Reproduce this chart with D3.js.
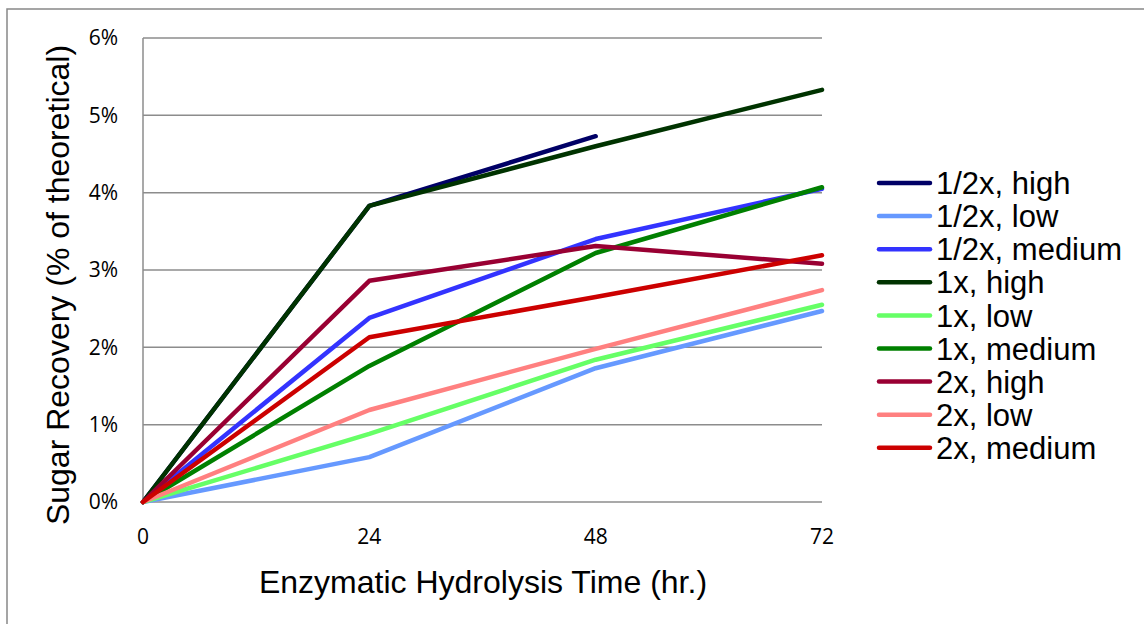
<!DOCTYPE html>
<html><head><meta charset="utf-8">
<script src="https://cdn.jsdelivr.net/npm/d3@7"></script>
<style>body{margin:0;background:#fff}svg{display:block}</style>
</head><body><svg id="c" width="1144" height="624"></svg>
<script>
const hours = [0, 24, 48, 72];
const seriesNames = ["1/2x, high","1/2x, low","1/2x, medium","1x, high","1x, low","1x, medium","2x, high","2x, low","2x, medium"];
const seriesColors = ["#000066","#6699ff","#3333ff","#003300","#66ff66","#008000","#990033","#ff8080","#cc0000"];
const half_high   = [0, 3.83, 4.73, null];
const half_low    = [0, 0.58, 1.73, 2.47];
const half_medium = [0, 2.38, 3.40, 4.05];
const one_high    = [0, 3.83, 4.60, 5.33];
const one_low     = [0, 0.88, 1.84, 2.55];
const one_medium  = [0, 1.76, 3.22, 4.07];
const two_high    = [0, 2.86, 3.31, 3.08];
const two_low     = [0, 1.19, 1.98, 2.74];
const two_medium  = [0, 2.13, 2.65, 3.19];
const seriesValues = [half_high, half_low, half_medium, one_high, one_low, one_medium, two_high, two_low, two_medium];
const yTicks = [0,1,2,3,4,5,6];
const xTicks = [0,24,48,72];

const svg = d3.select("#c");
svg.append("rect").attr("x",7).attr("y",9).attr("width",1150).attr("height",630)
  .attr("fill","none").attr("stroke","#888").attr("stroke-width",1.5);

const x = d3.scaleLinear().domain([0,72]).range([143,822]);
const y = d3.scaleLinear().domain([0,6]).range([502,38]);

// gridlines
svg.append("g").selectAll("line").data(yTicks).join("line")
  .attr("x1",x(0)).attr("x2",x(72)).attr("y1",d=>y(d)).attr("y2",d=>y(d))
  .attr("stroke","#8c8c8c").attr("stroke-width",1.5);
svg.append("line").attr("x1",x(0)).attr("x2",x(0)).attr("y1",y(0)).attr("y2",y(6))
  .attr("stroke","#8c8c8c").attr("stroke-width",1.5);

// tick labels
svg.append("g").selectAll("text").data(yTicks).join("text")
  .attr("x",118).attr("y",d=>y(d)).attr("dy","0.35em").attr("text-anchor","end")
  .attr("font-family","Open Sans").attr("font-size",21).attr("fill","#000")
  .text(d=>d+"%");
svg.append("g").selectAll("text").data(xTicks).join("text")
  .attr("x",d=>x(d)).attr("y",537).attr("dy","0.35em").attr("text-anchor","middle")
  .attr("font-family","Open Sans").attr("font-size",21).attr("fill","#000")
  .text(d=>d);

// titles
svg.append("text").attr("transform","translate(69,285) rotate(-90)").attr("text-anchor","middle")
  .attr("font-family","Liberation Sans, Arial").attr("font-size",32).text("Sugar Recovery (% of theoretical)");
svg.append("text").attr("x",483).attr("y",593).attr("text-anchor","middle")
  .attr("font-family","Liberation Sans, Arial").attr("font-size",32).text("Enzymatic Hydrolysis Time (hr.)");

// lines
const line = d3.line().defined(d=>d[1]!=null).x(d=>x(d[0])).y(d=>y(d[1]));
seriesValues.forEach((vals,i)=>{
  svg.append("path").datum(hours.map((h,j)=>[h,vals[j]]))
    .attr("d",line).attr("fill","none").attr("stroke",seriesColors[i])
    .attr("stroke-width",4.5).attr("stroke-linejoin","round").attr("stroke-linecap","round");
});

// legend
const lg = svg.append("g");
seriesNames.forEach((n,i)=>{
  const cy = 183 + i*33.1;
  lg.append("line").attr("x1",879).attr("x2",930).attr("y1",cy).attr("y2",cy)
    .attr("stroke",seriesColors[i]).attr("stroke-width",4.5).attr("stroke-linecap","round");
  lg.append("text").attr("x",936).attr("y",cy).attr("dy","0.36em")
    .attr("font-family","Liberation Sans, Arial").attr("font-size",31).text(n);
});
</script></body></html>
